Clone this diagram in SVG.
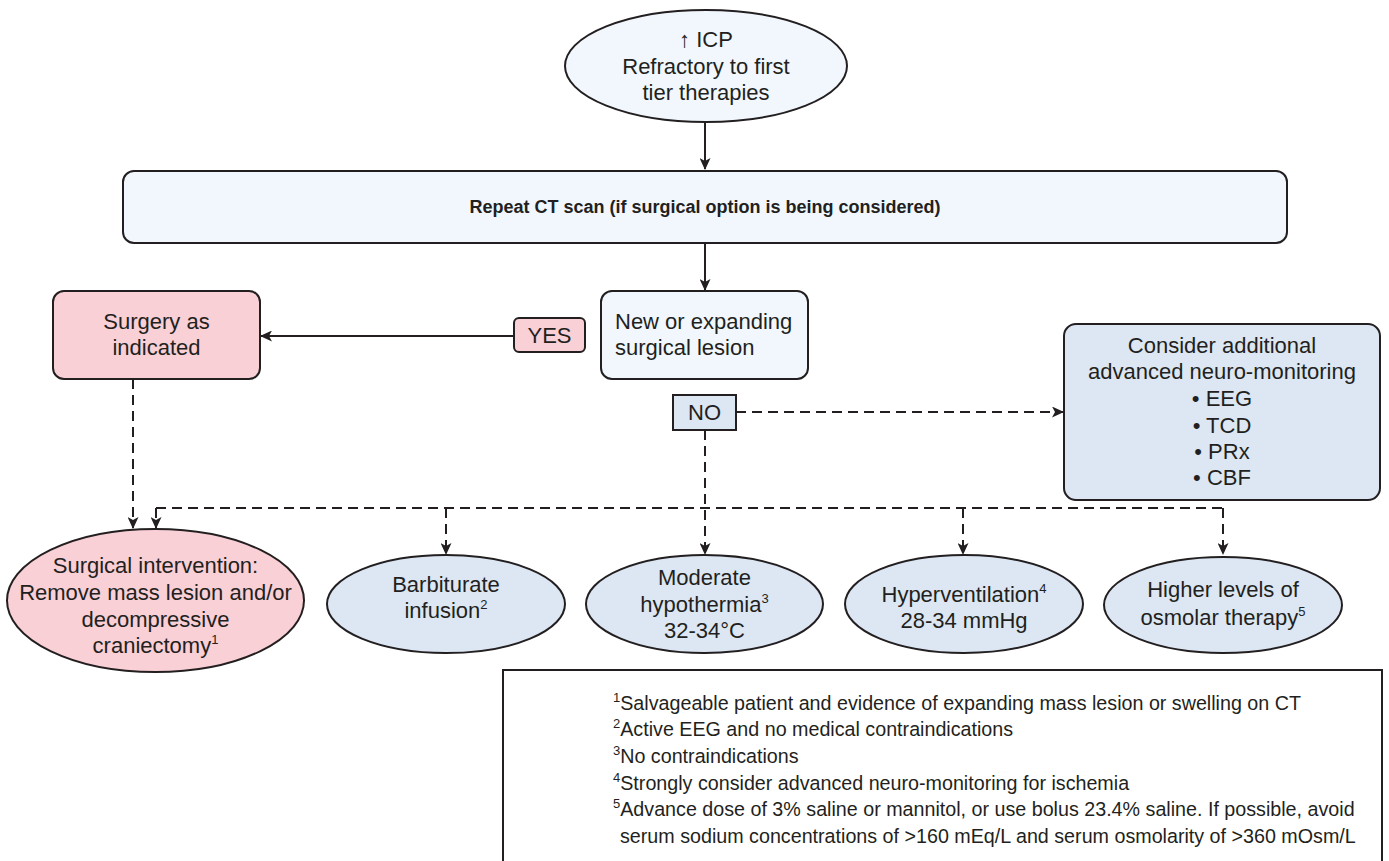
<svg xmlns="http://www.w3.org/2000/svg" width="1389" height="861" viewBox="0 0 1389 861">
<defs>
<marker id="ah" markerWidth="12" markerHeight="11" refX="11" refY="5.5" orient="auto" markerUnits="userSpaceOnUse"><path d="M0,0 L12,5.5 L0,11 L3,5.5 Z" fill="#231f20"/></marker>
</defs>
<style>
.t{font-family:"Liberation Sans",Arial,Helvetica,sans-serif;font-size:22px;fill:#231f20;text-anchor:middle}
.b{font-weight:bold;font-size:18px}
.l{text-anchor:start}
.fn{font-family:"Liberation Sans",Arial,Helvetica,sans-serif;font-size:19.7px;fill:#231f20}
.sup{font-size:13px}
.ln{stroke:#231f20;stroke-width:2;fill:none}
.d{stroke-dasharray:10 6}
.pink{fill:#f9d0d6;stroke:#231f20;stroke-width:2}
.blue{fill:#dce7f3;stroke:#231f20;stroke-width:2}
.pale{fill:#f1f7fd;stroke:#231f20;stroke-width:2}
.box{fill:#ffffff;stroke:#231f20;stroke-width:2}
</style>
<rect width="1389" height="861" fill="#ffffff"/>

<g id="connectors">
<path class="ln" d="M705,122 V169" marker-end="url(#ah)"/>
<path class="ln" d="M705,243 V290" marker-end="url(#ah)"/>
<path class="ln" d="M514,336 H261" marker-end="url(#ah)"/>
<path class="ln d" d="M736,412 H1063" marker-end="url(#ah)"/>
<path class="ln d" d="M133,379 V528" marker-end="url(#ah)"/>
<path class="ln d" d="M705,430 V554" marker-end="url(#ah)"/>
<path class="ln d" d="M156,508 H1223"/>
<path class="ln d" d="M156,508 V528" marker-end="url(#ah)"/>
<path class="ln d" d="M446,508 V554" marker-end="url(#ah)"/>
<path class="ln d" d="M963,508 V554" marker-end="url(#ah)"/>
<path class="ln d" d="M1223,508 V554" marker-end="url(#ah)"/>
</g>

<g id="start">
<ellipse class="pale" cx="706" cy="66" rx="141" ry="56"/>
<text class="t" x="706" y="47">↑ ICP</text>
<text class="t" x="706" y="74">Refractory to first</text>
<text class="t" x="706" y="100">tier therapies</text>
</g>

<g id="repeat-ct">
<rect class="pale" x="123" y="171" width="1164" height="72" rx="11"/>
<text class="t b" x="705" y="213">Repeat CT scan (if surgical option is being considered)</text>
</g>

<g id="new-lesion">
<rect class="pale" x="601" y="291" width="207" height="88" rx="11"/>
<text class="t l" x="615" y="329">New or expanding</text>
<text class="t l" x="615" y="355">surgical lesion</text>
</g>

<g id="yes">
<rect class="pink" x="514" y="318" width="71" height="34" rx="5"/>
<text class="t" x="549.5" y="343">YES</text>
</g>

<g id="surgery">
<rect class="pink" x="53" y="291" width="207" height="88" rx="11"/>
<text class="t" x="156.5" y="329">Surgery as</text>
<text class="t" x="156.5" y="355">indicated</text>
</g>

<g id="no">
<rect class="blue" x="673" y="395" width="63" height="35"/>
<text class="t" x="704.5" y="420">NO</text>
</g>

<g id="neuro">
<rect class="blue" x="1064" y="324" width="316" height="176" rx="12"/>
<text class="t" x="1222" y="353">Consider additional</text>
<text class="t" x="1222" y="379">advanced neuro-monitoring</text>
<text class="t" x="1222" y="406">• EEG</text>
<text class="t" x="1222" y="433">• TCD</text>
<text class="t" x="1222" y="459">• PRx</text>
<text class="t" x="1222" y="485">• CBF</text>
</g>

<g id="surgical-intervention">
<ellipse class="pink" cx="155.5" cy="600.5" rx="148.5" ry="71.5"/>
<text class="t" x="155.5" y="573">Surgical intervention:</text>
<text class="t" x="155.5" y="600">Remove mass lesion and/or</text>
<text class="t" x="155.5" y="627">decompressive</text>
<text class="t" x="155.5" y="653">craniectomy<tspan class="sup" dy="-9">1</tspan></text>
</g>

<g id="barbiturate">
<ellipse class="blue" cx="446" cy="604" rx="119" ry="49"/>
<text class="t" x="446" y="592">Barbiturate</text>
<text class="t" x="446" y="618">infusion<tspan class="sup" dy="-9">2</tspan></text>
</g>

<g id="hypothermia">
<ellipse class="blue" cx="704.5" cy="604" rx="118.5" ry="49"/>
<text class="t" x="704.5" y="585">Moderate</text>
<text class="t" x="704.5" y="612">hypothermia<tspan class="sup" dy="-9">3</tspan></text>
<text class="t" x="704.5" y="638">32-34°C</text>
</g>

<g id="hyperventilation">
<ellipse class="blue" cx="964" cy="604" rx="119" ry="49"/>
<text class="t" x="964" y="602">Hyperventilation<tspan class="sup" dy="-9">4</tspan></text>
<text class="t" x="964" y="628">28-34 mmHg</text>
</g>

<g id="osmolar">
<ellipse class="blue" cx="1223" cy="605" rx="119" ry="48"/>
<text class="t" x="1223" y="597">Higher levels of</text>
<text class="t" x="1223" y="625">osmolar therapy<tspan class="sup" dy="-9">5</tspan></text>
</g>

<g id="footnotes">
<rect class="box" x="503" y="670" width="879" height="200"/>
<text class="fn" x="613" y="710"><tspan class="sup" dy="-8">1</tspan><tspan dy="8">Salvageable patient and evidence of expanding mass lesion or swelling on CT</tspan></text>
<text class="fn" x="613" y="736"><tspan class="sup" dy="-8">2</tspan><tspan dy="8">Active EEG and no medical contraindications</tspan></text>
<text class="fn" x="613" y="763"><tspan class="sup" dy="-8">3</tspan><tspan dy="8">No contraindications</tspan></text>
<text class="fn" x="613" y="790"><tspan class="sup" dy="-8">4</tspan><tspan dy="8">Strongly consider advanced neuro-monitoring for ischemia</tspan></text>
<text class="fn" x="613" y="816"><tspan class="sup" dy="-8">5</tspan><tspan dy="8">Advance dose of 3% saline or mannitol, or use bolus 23.4% saline. If possible, avoid</tspan></text>
<text class="fn" x="620" y="843">serum sodium concentrations of &gt;160 mEq/L and serum osmolarity of &gt;360 mOsm/L</text>
</g>
</svg>
